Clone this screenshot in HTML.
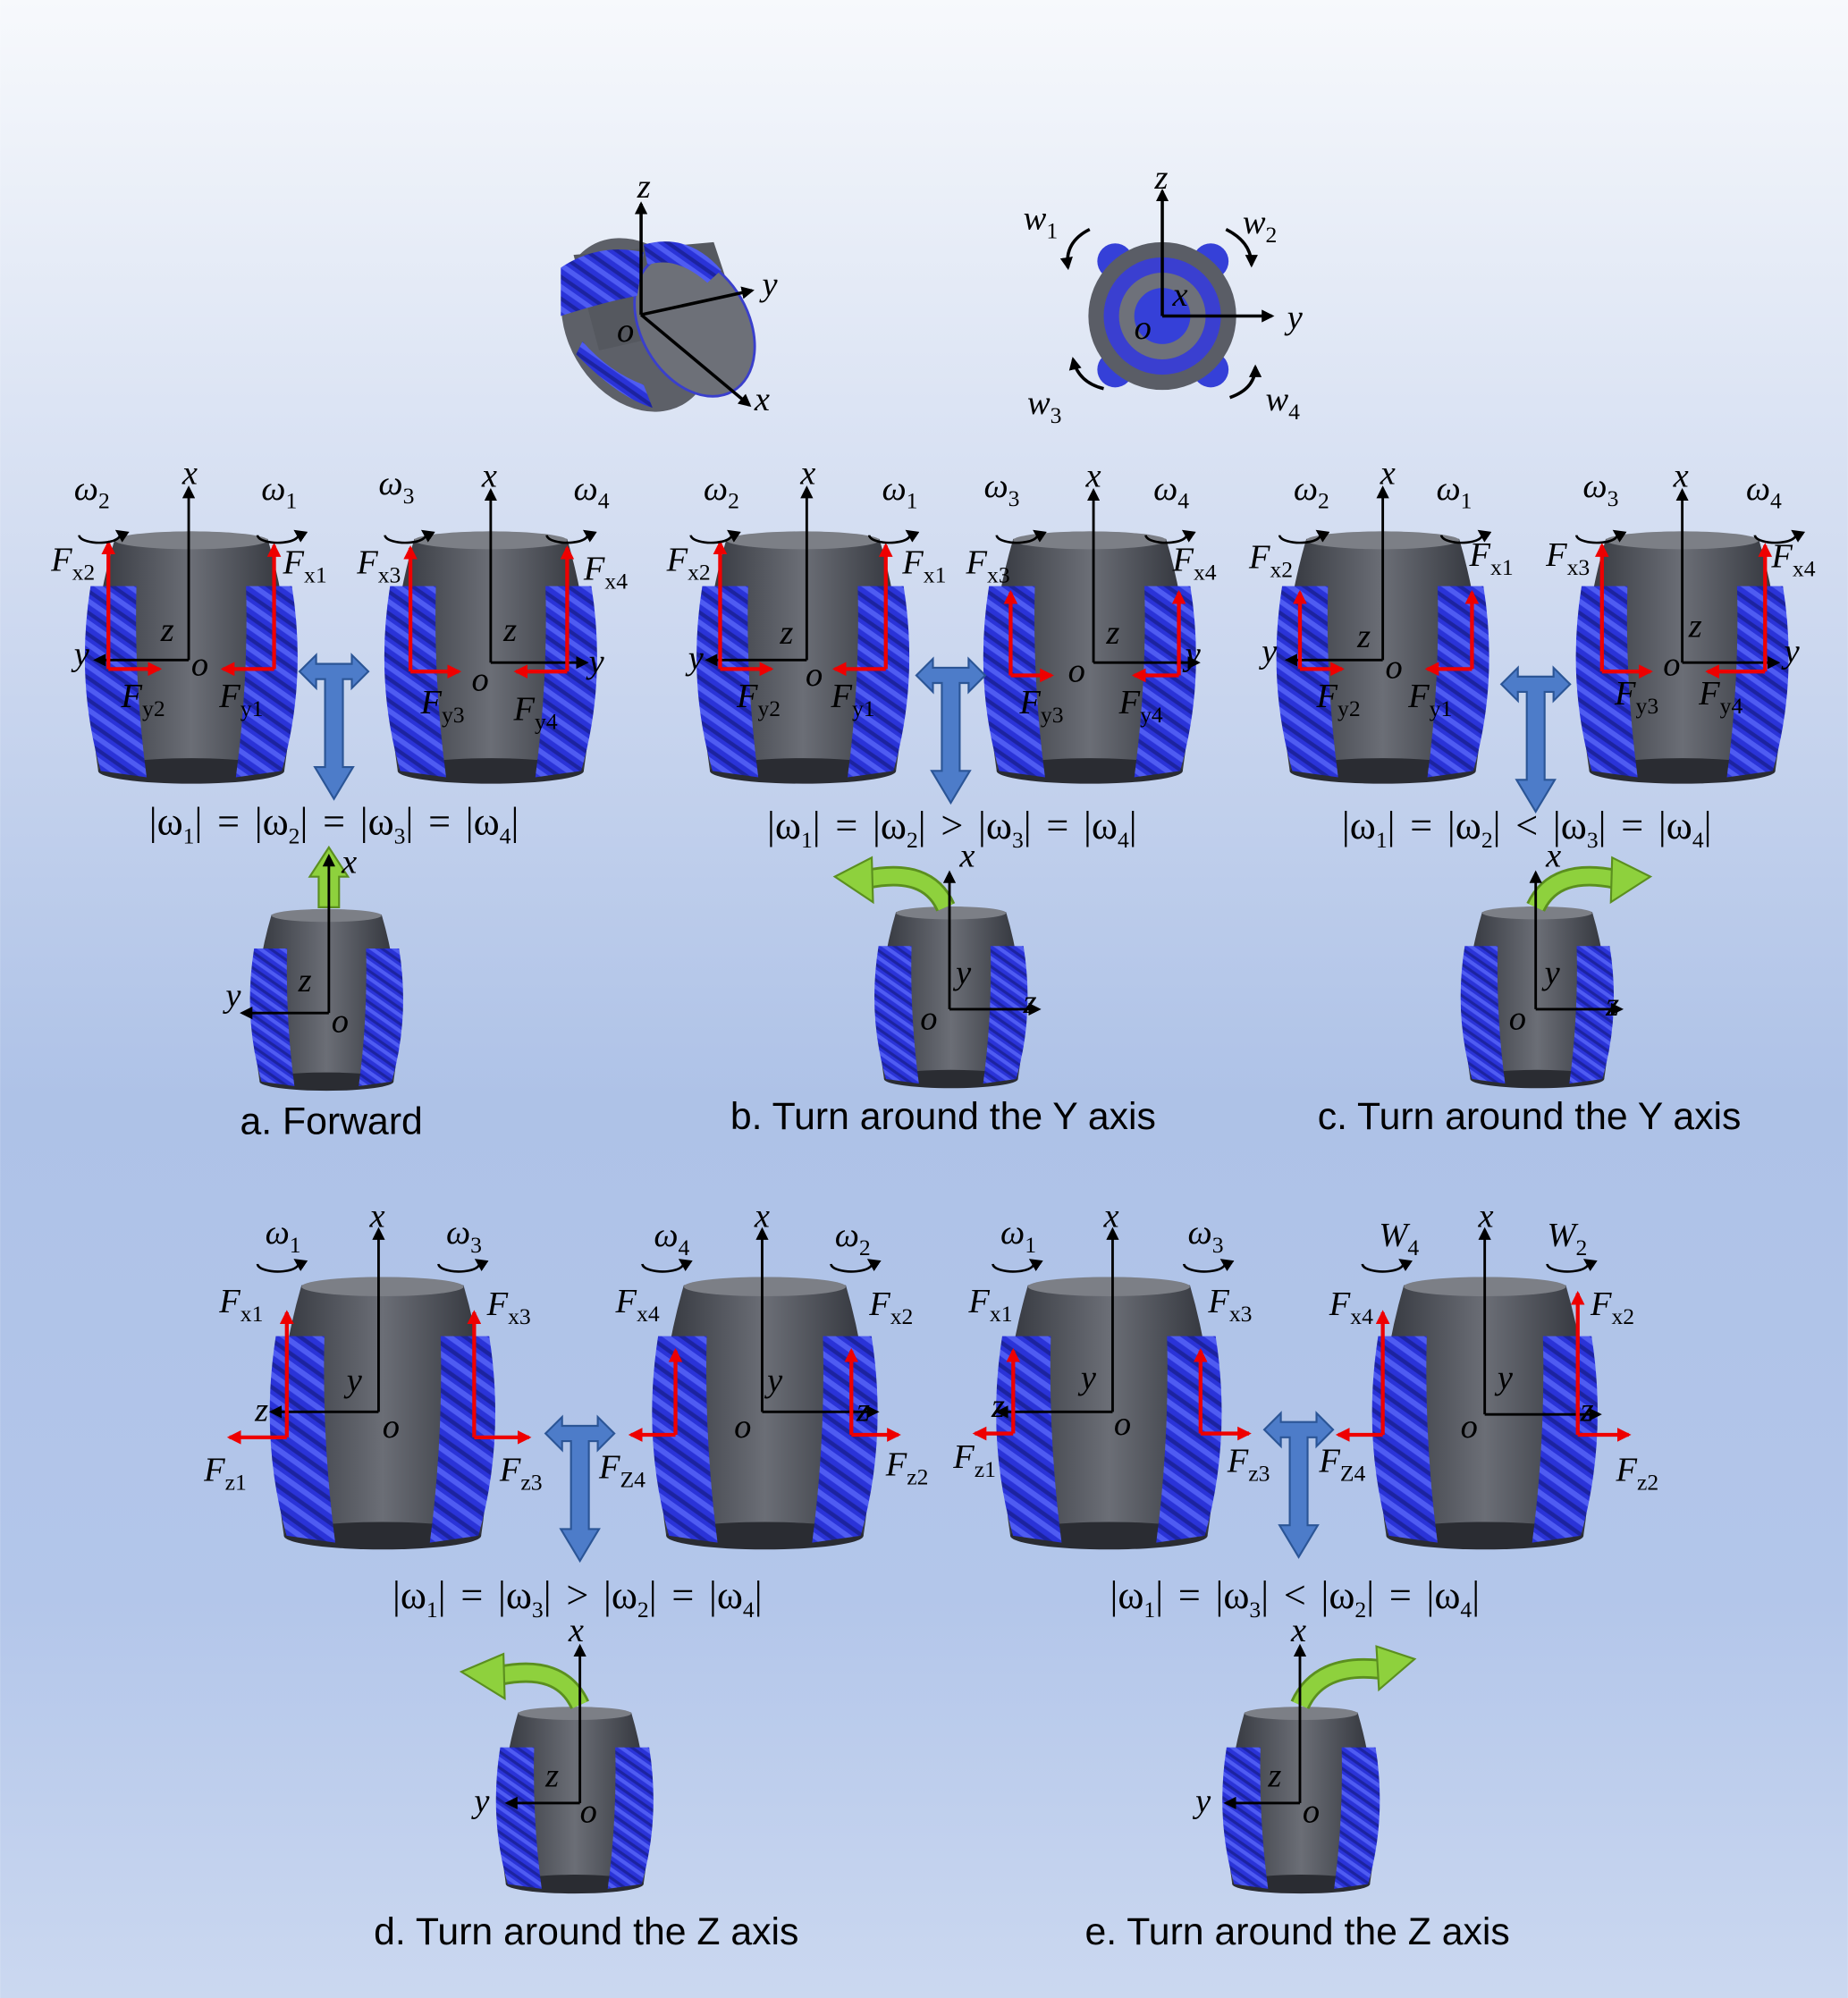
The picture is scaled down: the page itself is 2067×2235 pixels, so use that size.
<!DOCTYPE html>
<html><head><meta charset="utf-8">
<style>
html,body{margin:0;padding:0;background:#fff}
svg{display:block}
.l{font-family:"Liberation Serif",serif;font-style:italic;font-size:27px;fill:#000}
.s{font-size:18px;font-style:normal}
.eq{font-family:"Liberation Serif",serif;font-size:31px;fill:#000;word-spacing:4px}
.cap{font-family:"Liberation Sans",sans-serif;font-size:30px;fill:#000}
</style></head><body>
<svg width="2067" height="2235" viewBox="0 0 1450 1568" xmlns="http://www.w3.org/2000/svg">
<defs>
<linearGradient id="bg" x1="0" y1="0" x2="0" y2="1">
<stop offset="0" stop-color="#f7f9fc"/><stop offset="0.3" stop-color="#cfdaf0"/>
<stop offset="0.55" stop-color="#aec2e7"/><stop offset="0.8" stop-color="#b3c6ea"/><stop offset="1" stop-color="#cbd8f0"/>
</linearGradient>
<linearGradient id="gr" x1="0" y1="0" x2="1" y2="0">
<stop offset="0" stop-color="#33363d"/><stop offset="0.5" stop-color="#6b6e76"/><stop offset="1" stop-color="#30333a"/>
</linearGradient>
<pattern id="st" width="14" height="14" patternUnits="userSpaceOnUse" patternTransform="rotate(35)">
<rect width="14" height="14" fill="#2a33d8"/><rect width="14" height="4" fill="#4f5cf2"/><rect y="8" width="14" height="3" fill="#1c239f"/>
</pattern>
<marker id="ah" markerWidth="10" markerHeight="10" refX="8" refY="5" orient="auto" markerUnits="userSpaceOnUse"><path d="M0,0 L10,5 L0,10 Z" fill="#000"/></marker>
<marker id="ahr" markerWidth="11" markerHeight="11" refX="9" refY="5.5" orient="auto" markerUnits="userSpaceOnUse"><path d="M0,0 L11,5.5 L0,11 Z" fill="#e00"/></marker>
<g id="wh">
<path d="M25,8 Q85,-4 145,8 Q172,100 158,190 Q85,206 12,190 Q-2,100 25,8 Z" fill="url(#gr)"/>
<ellipse cx="85" cy="9" rx="60" ry="7" fill="#7c7f86"/>
<ellipse cx="85" cy="190" rx="73" ry="10" fill="#2a2c32"/>
<path d="M6,45 L42,45 Q40,120 50,195 L14,190 Q-6,120 6,45 Z" fill="url(#st)"/>
<path d="M164,45 L128,45 Q130,120 120,195 L156,190 Q176,120 164,45 Z" fill="url(#st)"/>
</g>
<g id="tb">
<polygon points="-27,0 -14,-13 -14,-6 14,-6 14,-13 27,0 14,13 14,6 7,6 7,75 15,75 0,100 -15,75 -7,75 -7,6 -14,6 -14,13" fill="#4d7cc9" stroke="#2b5596" stroke-width="1.5"/>
</g>
<g id="rot"><path d="M-16,0 A16,6 0 1 0 14,-3" fill="none" stroke="#000" stroke-width="1.8" marker-end="url(#ah)"/></g>
</defs>
<rect width="1450" height="1568" fill="url(#bg)"/>

<!-- top iso wheel -->
<g>
<ellipse cx="500" cy="255" rx="55" ry="72" transform="rotate(-30 500 255)" fill="#5d6068"/>
<path d="M450,200 L560,190 L580,250 L470,275 Z" fill="#55585f"/>
<ellipse cx="545" cy="255" rx="42" ry="60" transform="rotate(-30 545 255)" fill="#6d7078" stroke="#3a3fcc" stroke-width="2"/>
<path d="M440,210 Q470,190 505,198 L500,232 Q470,238 440,248 Z" fill="url(#st)"/>
<path d="M505,192 Q540,182 566,212 L555,222 Q530,200 508,208 Z" fill="url(#st)"/>
<path d="M452,278 Q485,312 512,320 L505,302 Q478,292 457,268 Z" fill="url(#st)"/>
<line x1="503" y1="247" x2="503" y2="160" stroke="#000" stroke-width="2.5" marker-end="url(#ah)"/>
<line x1="503" y1="247" x2="590" y2="228" stroke="#000" stroke-width="2.5" marker-end="url(#ah)"/>
<line x1="503" y1="247" x2="588" y2="318" stroke="#000" stroke-width="2.5" marker-end="url(#ah)"/>
<text class="l" x="500" y="155">z</text><text class="l" x="598" y="232">y</text><text class="l" x="592" y="322">x</text><text class="l" x="484" y="268">o</text>
</g>
<!-- front view -->
<g>
<circle cx="875" cy="205" r="14" fill="#3540d8"/><circle cx="950" cy="205" r="14" fill="#3540d8"/>
<circle cx="875" cy="290" r="14" fill="#3540d8"/><circle cx="950" cy="290" r="14" fill="#3540d8"/>
<circle cx="912" cy="248" r="58" fill="#5a5d66"/>
<circle cx="912" cy="248" r="46" fill="#3a3fd0"/>
<circle cx="912" cy="248" r="34" fill="#6e717a"/>
<circle cx="912" cy="248" r="22" fill="#3540d8"/>
<line x1="912" y1="248" x2="912" y2="150" stroke="#000" stroke-width="2.5" marker-end="url(#ah)"/>
<line x1="912" y1="248" x2="998" y2="248" stroke="#000" stroke-width="2.5" marker-end="url(#ah)"/>
<text class="l" x="906" y="148">z</text><text class="l" x="1010" y="258">y</text><text class="l" x="920" y="240">x</text><text class="l" x="890" y="266">o</text>
<path d="M855,180 Q835,190 838,210" fill="none" stroke="#000" stroke-width="2.5" marker-end="url(#ah)"/>
<path d="M962,180 Q982,190 982,208" fill="none" stroke="#000" stroke-width="2.5" marker-end="url(#ah)"/>
<path d="M866,305 Q846,300 842,282" fill="none" stroke="#000" stroke-width="2.5" marker-end="url(#ah)"/>
<path d="M965,312 Q985,305 985,288" fill="none" stroke="#000" stroke-width="2.5" marker-end="url(#ah)"/>
<text class="l" x="803" y="180">w<tspan class="s" dy="7">1</tspan></text>
<text class="l" x="975" y="183">w<tspan class="s" dy="7">2</tspan></text>
<text class="l" x="806" y="325">w<tspan class="s" dy="7">3</tspan></text>
<text class="l" x="993" y="322">w<tspan class="s" dy="7">4</tspan></text>
</g>

<!-- ROW 1 panel a -->
<g>
<use href="#wh" x="65" y="415"/><use href="#wh" x="300" y="415"/>
<line x1="148" y1="518" x2="148" y2="383" stroke="#000" stroke-width="2" marker-end="url(#ah)"/>
<line x1="148" y1="518" x2="75" y2="518" stroke="#000" stroke-width="2" marker-end="url(#ah)"/>
<line x1="385" y1="520" x2="385" y2="385" stroke="#000" stroke-width="2" marker-end="url(#ah)"/>
<line x1="385" y1="520" x2="460" y2="520" stroke="#000" stroke-width="2" marker-end="url(#ah)"/>
<g stroke="#e00" stroke-width="3" fill="none">
<line x1="85" y1="525" x2="85" y2="426" marker-end="url(#ahr)"/>
<line x1="85" y1="525" x2="125" y2="525" marker-end="url(#ahr)"/>
<line x1="215" y1="525" x2="215" y2="428" marker-end="url(#ahr)"/>
<line x1="215" y1="525" x2="175" y2="525" marker-end="url(#ahr)"/>
<line x1="322" y1="527" x2="322" y2="430" marker-end="url(#ahr)"/>
<line x1="322" y1="527" x2="360" y2="527" marker-end="url(#ahr)"/>
<line x1="445" y1="527" x2="445" y2="430" marker-end="url(#ahr)"/>
<line x1="445" y1="527" x2="405" y2="527" marker-end="url(#ahr)"/>
</g>
<use href="#rot" x="78" y="420"/><use href="#rot" x="218" y="420"/><use href="#rot" x="318" y="420"/><use href="#rot" x="445" y="420"/>
<text class="l" x="58" y="392">ω<tspan class="s" dy="7">2</tspan></text>
<text class="l" x="143" y="380">x</text>
<text class="l" x="205" y="392">ω<tspan class="s" dy="7">1</tspan></text>
<text class="l" x="297" y="388">ω<tspan class="s" dy="7">3</tspan></text>
<text class="l" x="378" y="382">x</text>
<text class="l" x="450" y="392">ω<tspan class="s" dy="7">4</tspan></text>
<text class="l" x="40" y="448">F<tspan class="s" dy="7">x2</tspan></text>
<text class="l" x="222" y="450">F<tspan class="s" dy="7">x1</tspan></text>
<text class="l" x="280" y="450">F<tspan class="s" dy="7">x3</tspan></text>
<text class="l" x="458" y="455">F<tspan class="s" dy="7">x4</tspan></text>
<text class="l" x="95" y="555">F<tspan class="s" dy="7">y2</tspan></text>
<text class="l" x="172" y="555">F<tspan class="s" dy="7">y1</tspan></text>
<text class="l" x="330" y="560">F<tspan class="s" dy="7">y3</tspan></text>
<text class="l" x="403" y="565">F<tspan class="s" dy="7">y4</tspan></text>
<text class="l" x="58" y="522">y</text><text class="l" x="126" y="503">z</text><text class="l" x="150" y="530">o</text>
<text class="l" x="462" y="528">y</text><text class="l" x="395" y="503">z</text><text class="l" x="370" y="542">o</text>
<use href="#tb" x="262" y="527"/>
</g>
<g transform="translate(480,0)">
<use href="#wh" x="65" y="415"/><use href="#wh" x="290" y="415"/>
<line x1="153" y1="518" x2="153" y2="383" stroke="#000" stroke-width="2" marker-end="url(#ah)"/>
<line x1="153" y1="518" x2="75" y2="518" stroke="#000" stroke-width="2" marker-end="url(#ah)"/>
<line x1="378" y1="520" x2="378" y2="385" stroke="#000" stroke-width="2" marker-end="url(#ah)"/>
<line x1="378" y1="520" x2="460" y2="520" stroke="#000" stroke-width="2" marker-end="url(#ah)"/>
<g stroke="#e00" stroke-width="3" fill="none">
<line x1="85" y1="525" x2="85" y2="426" marker-end="url(#ahr)"/><line x1="85" y1="525" x2="125" y2="525" marker-end="url(#ahr)"/>
<line x1="215" y1="525" x2="215" y2="428" marker-end="url(#ahr)"/><line x1="215" y1="525" x2="175" y2="525" marker-end="url(#ahr)"/>
<line x1="313" y1="530" x2="313" y2="465" marker-end="url(#ahr)"/><line x1="313" y1="530" x2="345" y2="530" marker-end="url(#ahr)"/>
<line x1="445" y1="530" x2="445" y2="465" marker-end="url(#ahr)"/><line x1="445" y1="530" x2="410" y2="530" marker-end="url(#ahr)"/>
</g>
<use href="#rot" x="78" y="420"/><use href="#rot" x="218" y="420"/><use href="#rot" x="318" y="420"/><use href="#rot" x="435" y="420"/>
<text class="l" x="72" y="392">ω<tspan class="s" dy="7">2</tspan></text>
<text class="l" x="148" y="380">x</text>
<text class="l" x="212" y="392">ω<tspan class="s" dy="7">1</tspan></text>
<text class="l" x="292" y="390">ω<tspan class="s" dy="7">3</tspan></text>
<text class="l" x="372" y="382">x</text>
<text class="l" x="425" y="392">ω<tspan class="s" dy="7">4</tspan></text>
<text class="l" x="43" y="448">F<tspan class="s" dy="7">x2</tspan></text>
<text class="l" x="228" y="450">F<tspan class="s" dy="7">x1</tspan></text>
<text class="l" x="278" y="450">F<tspan class="s" dy="7">x3</tspan></text>
<text class="l" x="440" y="448">F<tspan class="s" dy="7">x4</tspan></text>
<text class="l" x="98" y="555">F<tspan class="s" dy="7">y2</tspan></text>
<text class="l" x="172" y="555">F<tspan class="s" dy="7">y1</tspan></text>
<text class="l" x="320" y="560">F<tspan class="s" dy="7">y3</tspan></text>
<text class="l" x="398" y="560">F<tspan class="s" dy="7">y4</tspan></text>
<text class="l" x="60" y="525">y</text><text class="l" x="132" y="505">z</text><text class="l" x="152" y="538">o</text>
<text class="l" x="450" y="522">y</text><text class="l" x="388" y="505">z</text><text class="l" x="358" y="535">o</text>
<use href="#tb" x="266" y="530"/>
</g>
<g transform="translate(935,0)">
<use href="#wh" x="65" y="415"/><use href="#wh" x="300" y="415"/>
<line x1="150" y1="518" x2="150" y2="383" stroke="#000" stroke-width="2" marker-end="url(#ah)"/>
<line x1="150" y1="518" x2="75" y2="518" stroke="#000" stroke-width="2" marker-end="url(#ah)"/>
<line x1="385" y1="520" x2="385" y2="385" stroke="#000" stroke-width="2" marker-end="url(#ah)"/>
<line x1="385" y1="520" x2="460" y2="520" stroke="#000" stroke-width="2" marker-end="url(#ah)"/>
<g stroke="#e00" stroke-width="3" fill="none">
<line x1="85" y1="525" x2="85" y2="465" marker-end="url(#ahr)"/><line x1="85" y1="525" x2="118" y2="525" marker-end="url(#ahr)"/>
<line x1="220" y1="525" x2="220" y2="465" marker-end="url(#ahr)"/><line x1="220" y1="525" x2="185" y2="525" marker-end="url(#ahr)"/>
<line x1="322" y1="527" x2="322" y2="428" marker-end="url(#ahr)"/><line x1="322" y1="527" x2="360" y2="527" marker-end="url(#ahr)"/>
<line x1="450" y1="527" x2="450" y2="428" marker-end="url(#ahr)"/><line x1="450" y1="527" x2="405" y2="527" marker-end="url(#ahr)"/>
</g>
<use href="#rot" x="85" y="420"/><use href="#rot" x="212" y="420"/><use href="#rot" x="318" y="420"/><use href="#rot" x="458" y="420"/>
<text class="l" x="80" y="392">ω<tspan class="s" dy="7">2</tspan></text>
<text class="l" x="148" y="380">x</text>
<text class="l" x="192" y="392">ω<tspan class="s" dy="7">1</tspan></text>
<text class="l" x="307" y="390">ω<tspan class="s" dy="7">3</tspan></text>
<text class="l" x="378" y="382">x</text>
<text class="l" x="435" y="392">ω<tspan class="s" dy="7">4</tspan></text>
<text class="l" x="45" y="446">F<tspan class="s" dy="7">x2</tspan></text>
<text class="l" x="218" y="444">F<tspan class="s" dy="7">x1</tspan></text>
<text class="l" x="278" y="444">F<tspan class="s" dy="7">x3</tspan></text>
<text class="l" x="455" y="445">F<tspan class="s" dy="7">x4</tspan></text>
<text class="l" x="98" y="555">F<tspan class="s" dy="7">y2</tspan></text>
<text class="l" x="170" y="555">F<tspan class="s" dy="7">y1</tspan></text>
<text class="l" x="332" y="553">F<tspan class="s" dy="7">y3</tspan></text>
<text class="l" x="398" y="553">F<tspan class="s" dy="7">y4</tspan></text>
<text class="l" x="55" y="520">y</text><text class="l" x="130" y="508">z</text><text class="l" x="152" y="532">o</text>
<text class="l" x="465" y="520">y</text><text class="l" x="390" y="500">z</text><text class="l" x="370" y="530">o</text>
<use href="#tb" x="270" y="537"/>
</g>

<!-- row1 equations & captions -->
<text class="eq" x="262" y="655" text-anchor="middle">|ω<tspan class="s" dy="7">1</tspan><tspan dy="-7">|  =  |ω</tspan><tspan class="s" dy="7">2</tspan><tspan dy="-7">|  =  |ω</tspan><tspan class="s" dy="7">3</tspan><tspan dy="-7">|  =  |ω</tspan><tspan class="s" dy="7">4</tspan><tspan dy="-7">|</tspan></text>
<text class="eq" x="747" y="658" text-anchor="middle">|ω<tspan class="s" dy="7">1</tspan><tspan dy="-7">|  =  |ω</tspan><tspan class="s" dy="7">2</tspan><tspan dy="-7">|  &gt;  |ω</tspan><tspan class="s" dy="7">3</tspan><tspan dy="-7">|  =  |ω</tspan><tspan class="s" dy="7">4</tspan><tspan dy="-7">|</tspan></text>
<text class="eq" x="1198" y="658" text-anchor="middle">|ω<tspan class="s" dy="7">1</tspan><tspan dy="-7">|  =  |ω</tspan><tspan class="s" dy="7">2</tspan><tspan dy="-7">|  &lt;  |ω</tspan><tspan class="s" dy="7">3</tspan><tspan dy="-7">|  =  |ω</tspan><tspan class="s" dy="7">4</tspan><tspan dy="-7">|</tspan></text>
<text class="cap" x="260" y="890" text-anchor="middle">a. Forward</text>
<text class="cap" x="740" y="886" text-anchor="middle">b. Turn around the Y axis</text>
<text class="cap" x="1200" y="886" text-anchor="middle">c. Turn around the Y axis</text>

<!-- small wheels row1 -->
<g transform="translate(195,712) scale(0.72)"><use href="#wh"/></g>
<polygon points="250,712 250,688 243,688 258,665 273,688 266,688 266,712" fill="#8ed13d" stroke="#5b8f1f" stroke-width="1.5"/>
<line x1="258" y1="795" x2="258" y2="672" stroke="#000" stroke-width="2" marker-end="url(#ah)"/>
<line x1="258" y1="795" x2="190" y2="795" stroke="#000" stroke-width="2" marker-end="url(#ah)"/>
<text class="l" x="268" y="685">x</text><text class="l" x="177" y="790">y</text><text class="l" x="234" y="778">z</text><text class="l" x="260" y="810">o</text>

<g transform="translate(685,710) scale(0.72)"><use href="#wh"/></g>
<path d="M742,712 Q728,680 680,690" fill="none" stroke="#5b8f1f" stroke-width="16"/>
<path d="M742,712 Q728,680 680,690" fill="none" stroke="#8ed13d" stroke-width="12"/>
<polygon points="684,673 655,688 685,708" fill="#8ed13d" stroke="#5b8f1f" stroke-width="1.5"/>
<line x1="745" y1="792" x2="745" y2="685" stroke="#000" stroke-width="2" marker-end="url(#ah)"/>
<line x1="745" y1="792" x2="815" y2="792" stroke="#000" stroke-width="2" marker-end="url(#ah)"/>
<text class="l" x="753" y="680">x</text><text class="l" x="750" y="772">y</text><text class="l" x="803" y="795">z</text><text class="l" x="722" y="808">o</text>

<g transform="translate(1145,710) scale(0.72)"><use href="#wh"/></g>
<path d="M1205,712 Q1220,680 1268,690" fill="none" stroke="#5b8f1f" stroke-width="16"/>
<path d="M1205,712 Q1220,680 1268,690" fill="none" stroke="#8ed13d" stroke-width="12"/>
<polygon points="1265,673 1295,688 1264,708" fill="#8ed13d" stroke="#5b8f1f" stroke-width="1.5"/>
<line x1="1205" y1="792" x2="1205" y2="685" stroke="#000" stroke-width="2" marker-end="url(#ah)"/>
<line x1="1205" y1="792" x2="1272" y2="792" stroke="#000" stroke-width="2" marker-end="url(#ah)"/>
<text class="l" x="1213" y="680">x</text><text class="l" x="1212" y="772">y</text><text class="l" x="1260" y="797">z</text><text class="l" x="1184" y="808">o</text>

<!-- ROW 2 -->
<g>
<g transform="translate(210,1000) scale(1.06,1.08)"><use href="#wh"/></g>
<g transform="translate(510,1000) scale(1.06,1.08)"><use href="#wh"/></g>
<line x1="297" y1="1108" x2="297" y2="965" stroke="#000" stroke-width="2" marker-end="url(#ah)"/>
<line x1="297" y1="1108" x2="213" y2="1108" stroke="#000" stroke-width="2" marker-end="url(#ah)"/>
<line x1="598" y1="1108" x2="598" y2="965" stroke="#000" stroke-width="2" marker-end="url(#ah)"/>
<line x1="598" y1="1108" x2="688" y2="1108" stroke="#000" stroke-width="2" marker-end="url(#ah)"/>
<g stroke="#e00" stroke-width="3" fill="none">
<line x1="225" y1="1128" x2="225" y2="1030" marker-end="url(#ahr)"/><line x1="225" y1="1128" x2="180" y2="1128" marker-end="url(#ahr)"/>
<line x1="372" y1="1128" x2="372" y2="1030" marker-end="url(#ahr)"/><line x1="372" y1="1128" x2="415" y2="1128" marker-end="url(#ahr)"/>
<line x1="530" y1="1126" x2="530" y2="1060" marker-end="url(#ahr)"/><line x1="530" y1="1126" x2="495" y2="1126" marker-end="url(#ahr)"/>
<line x1="668" y1="1126" x2="668" y2="1060" marker-end="url(#ahr)"/><line x1="668" y1="1126" x2="705" y2="1126" marker-end="url(#ahr)"/>
</g>
<use href="#rot" x="218" y="992"/><use href="#rot" x="360" y="992"/><use href="#rot" x="520" y="992"/><use href="#rot" x="668" y="992"/>
<text class="l" x="208" y="976">ω<tspan class="s" dy="7">1</tspan></text>
<text class="l" x="290" y="963">x</text>
<text class="l" x="350" y="976">ω<tspan class="s" dy="7">3</tspan></text>
<text class="l" x="513" y="978">ω<tspan class="s" dy="7">4</tspan></text>
<text class="l" x="592" y="963">x</text>
<text class="l" x="655" y="978">ω<tspan class="s" dy="7">2</tspan></text>
<text class="l" x="172" y="1030">F<tspan class="s" dy="7">x1</tspan></text>
<text class="l" x="382" y="1032">F<tspan class="s" dy="7">x3</tspan></text>
<text class="l" x="483" y="1030">F<tspan class="s" dy="7">x4</tspan></text>
<text class="l" x="682" y="1032">F<tspan class="s" dy="7">x2</tspan></text>
<text class="l" x="160" y="1162">F<tspan class="s" dy="7">z1</tspan></text>
<text class="l" x="392" y="1162">F<tspan class="s" dy="7">z3</tspan></text>
<text class="l" x="470" y="1160">F<tspan class="s" dy="7">Z4</tspan></text>
<text class="l" x="695" y="1158">F<tspan class="s" dy="7">z2</tspan></text>
<text class="l" x="200" y="1115">z</text><text class="l" x="272" y="1092">y</text><text class="l" x="300" y="1128">o</text>
<text class="l" x="672" y="1115">z</text><text class="l" x="602" y="1092">y</text><text class="l" x="576" y="1128">o</text>
<use href="#tb" x="455" y="1125"/>
</g>
<g transform="translate(570,0)">
<g transform="translate(210,1000) scale(1.06,1.08)"><use href="#wh"/></g>
<g transform="translate(505,1000) scale(1.06,1.08)"><use href="#wh"/></g>
<line x1="303" y1="1108" x2="303" y2="965" stroke="#000" stroke-width="2" marker-end="url(#ah)"/>
<line x1="303" y1="1108" x2="213" y2="1108" stroke="#000" stroke-width="2" marker-end="url(#ah)"/>
<line x1="595" y1="1110" x2="595" y2="965" stroke="#000" stroke-width="2" marker-end="url(#ah)"/>
<line x1="595" y1="1110" x2="685" y2="1110" stroke="#000" stroke-width="2" marker-end="url(#ah)"/>
<g stroke="#e00" stroke-width="3" fill="none">
<line x1="225" y1="1125" x2="225" y2="1060" marker-end="url(#ahr)"/><line x1="225" y1="1125" x2="195" y2="1125" marker-end="url(#ahr)"/>
<line x1="372" y1="1125" x2="372" y2="1060" marker-end="url(#ahr)"/><line x1="372" y1="1125" x2="410" y2="1125" marker-end="url(#ahr)"/>
<line x1="515" y1="1126" x2="515" y2="1030" marker-end="url(#ahr)"/><line x1="515" y1="1126" x2="480" y2="1126" marker-end="url(#ahr)"/>
<line x1="668" y1="1126" x2="668" y2="1015" marker-end="url(#ahr)"/><line x1="668" y1="1126" x2="708" y2="1126" marker-end="url(#ahr)"/>
</g>
<use href="#rot" x="225" y="992"/><use href="#rot" x="375" y="992"/><use href="#rot" x="515" y="992"/><use href="#rot" x="660" y="992"/>
<text class="l" x="215" y="976">ω<tspan class="s" dy="7">1</tspan></text>
<text class="l" x="296" y="963">x</text>
<text class="l" x="362" y="976">ω<tspan class="s" dy="7">3</tspan></text>
<text class="l" x="512" y="978">W<tspan class="s" dy="7">4</tspan></text>
<text class="l" x="590" y="963">x</text>
<text class="l" x="644" y="978">W<tspan class="s" dy="7">2</tspan></text>
<text class="l" x="190" y="1030">F<tspan class="s" dy="7">x1</tspan></text>
<text class="l" x="378" y="1030">F<tspan class="s" dy="7">x3</tspan></text>
<text class="l" x="473" y="1032">F<tspan class="s" dy="7">x4</tspan></text>
<text class="l" x="678" y="1032">F<tspan class="s" dy="7">x2</tspan></text>
<text class="l" x="178" y="1152">F<tspan class="s" dy="7">z1</tspan></text>
<text class="l" x="393" y="1155">F<tspan class="s" dy="7">z3</tspan></text>
<text class="l" x="465" y="1155">F<tspan class="s" dy="7">Z4</tspan></text>
<text class="l" x="698" y="1162">F<tspan class="s" dy="7">z2</tspan></text>
<text class="l" x="208" y="1112">z</text><text class="l" x="278" y="1090">y</text><text class="l" x="304" y="1126">o</text>
<text class="l" x="670" y="1115">z</text><text class="l" x="605" y="1090">y</text><text class="l" x="576" y="1128">o</text>
<use href="#tb" x="449" y="1122"/>
</g>
<text class="eq" x="453" y="1262" text-anchor="middle">|ω<tspan class="s" dy="7">1</tspan><tspan dy="-7">|  =  |ω</tspan><tspan class="s" dy="7">3</tspan><tspan dy="-7">|  &gt;  |ω</tspan><tspan class="s" dy="7">2</tspan><tspan dy="-7">|  =  |ω</tspan><tspan class="s" dy="7">4</tspan><tspan dy="-7">|</tspan></text>
<text class="eq" x="1016" y="1262" text-anchor="middle">|ω<tspan class="s" dy="7">1</tspan><tspan dy="-7">|  =  |ω</tspan><tspan class="s" dy="7">3</tspan><tspan dy="-7">|  &lt;  |ω</tspan><tspan class="s" dy="7">2</tspan><tspan dy="-7">|  =  |ω</tspan><tspan class="s" dy="7">4</tspan><tspan dy="-7">|</tspan></text>
<text class="cap" x="460" y="1526" text-anchor="middle">d. Turn around the Z axis</text>
<text class="cap" x="1018" y="1526" text-anchor="middle">e. Turn around the Z axis</text>

<g transform="translate(388,1338) scale(0.74)"><use href="#wh"/></g>
<path d="M455,1338 Q440,1305 392,1315" fill="none" stroke="#5b8f1f" stroke-width="16"/>
<path d="M455,1338 Q440,1305 392,1315" fill="none" stroke="#8ed13d" stroke-width="12"/>
<polygon points="395,1298 362,1312 396,1333" fill="#8ed13d" stroke="#5b8f1f" stroke-width="1.5"/>
<line x1="455" y1="1415" x2="455" y2="1292" stroke="#000" stroke-width="2" marker-end="url(#ah)"/>
<line x1="455" y1="1415" x2="398" y2="1415" stroke="#000" stroke-width="2" marker-end="url(#ah)"/>
<text class="l" x="446" y="1288">x</text><text class="l" x="372" y="1422">y</text><text class="l" x="428" y="1402">z</text><text class="l" x="455" y="1430">o</text>

<g transform="translate(958,1338) scale(0.74)"><use href="#wh"/></g>
<path d="M1020,1338 Q1035,1305 1082,1310" fill="none" stroke="#5b8f1f" stroke-width="16"/>
<path d="M1020,1338 Q1035,1305 1082,1310" fill="none" stroke="#8ed13d" stroke-width="12"/>
<polygon points="1080,1292 1110,1302 1082,1326" fill="#8ed13d" stroke="#5b8f1f" stroke-width="1.5"/>
<line x1="1020" y1="1415" x2="1020" y2="1292" stroke="#000" stroke-width="2" marker-end="url(#ah)"/>
<line x1="1020" y1="1415" x2="962" y2="1415" stroke="#000" stroke-width="2" marker-end="url(#ah)"/>
<text class="l" x="1013" y="1288">x</text><text class="l" x="938" y="1422">y</text><text class="l" x="995" y="1402">z</text><text class="l" x="1022" y="1430">o</text>
</svg>
</body></html>
